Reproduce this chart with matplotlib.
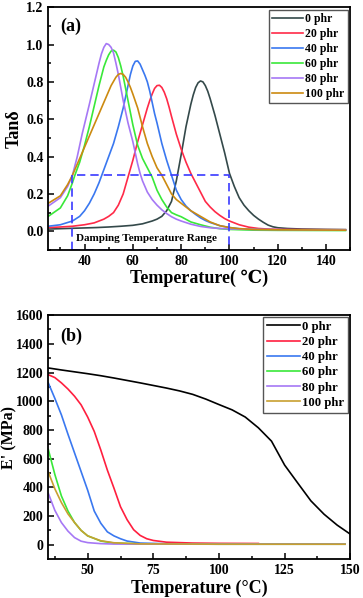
import numpy as np
import matplotlib.pyplot as plt

plt.rcParams['font.family'] = ['Liberation Serif', 'DejaVu Serif']
plt.rcParams['font.weight'] = 'bold'

labels = ['0 phr', '20 phr', '40 phr', '60 phr', '80 phr', '100 phr']
colors_a = ['#34494a', '#ff2a48', '#3a78f0', '#39e839', '#a678f5', '#cc8a10']
colors_b = ['#000000', '#ff1f3f', '#3a78f0', '#39e839', '#a678f5', '#c8a030']

# ---- (a) tan delta ----
t0 = [25, 30, 35, 40, 45, 50, 55, 60, 64, 68, 70, 72, 74, 76, 78, 80, 82, 84, 85, 86, 87, 88, 89, 90, 91,
      92, 93, 94, 96, 98, 100, 102, 104, 106, 108, 110, 112, 114, 116, 118, 120, 124, 130, 140, 148]
tan0 = [.012, .014, .016, .018, .02, .023, .027, .032, .04, .055, .065, .08, .11, .16, .27, .41, .56, .68,
        .73, .77, .795, .805, .80, .78, .75, .71, .665, .62, .52, .42, .31, .24, .18, .14, .11, .085, .065,
        .048, .033, .024, .019, .015, .012, .01, .009]

t20 = [25, 30, 35, 40, 44, 48, 50, 52, 54, 56, 58, 60, 62, 64, 66, 67, 68, 69, 70, 71, 72, 73, 74, 75, 76,
       78, 80, 82, 84, 86, 88, 90, 92, 94, 96, 98, 100, 104, 108, 112, 116, 120, 130, 148]
tan20 = [.02, .023, .027, .035, .045, .065, .08, .10, .14, .20, .29, .38, .48, .57, .66, .70, .735, .765,
         .78, .782, .77, .745, .71, .665, .615, .52, .44, .37, .31, .26, .21, .16, .13, .105, .085, .068,
         .055, .035, .022, .015, .012, .01, .009, .008]

t40 = [25, 30, 35, 38, 40, 42, 44, 46, 48, 50, 52, 54, 56, 57, 58, 59, 60, 61, 62, 63, 64, 65, 66, 67, 68,
       69, 70, 72, 74, 76, 78, 80, 82, 84, 86, 88, 90, 92, 96, 100, 104, 110, 120, 148]
tan40 = [.027, .035, .055, .08, .11, .15, .20, .26, .33, .40, .47, .56, .66, .72, .78, .84, .885, .91,
         .912, .895, .865, .835, .80, .75, .69, .63, .58, .47, .38, .30, .22, .17, .135, .11, .09, .072, .058,
         .047, .03, .02, .014, .01, .008, .006]

t60 = [25, 30, 33, 35, 36, 38, 40, 42, 44, 46, 48, 49, 50, 51, 52, 53, 54, 55, 56, 58, 60, 62, 64, 66, 68,
       70, 72, 74, 76, 78, 80, 84, 88, 92, 96, 100, 110, 120, 148]
tan60 = [.08, .125, .19, .26, .30, .37, .46, .56, .67, .78, .88, .915, .945, .965, .97, .96, .93, .885, .83,
         .70, .57, .46, .39, .34, .29, .22, .17, .13, .10, .088, .078, .05, .035, .022, .014, .01, .006,
         .005, .004]

t80 = [25, 30, 33, 35, 37, 39, 40.5, 42, 44, 46, 47, 48, 49, 50, 51, 52, 53, 54, 55, 56, 57, 58, 59, 60,
       61, 62, 63, 64, 66, 68, 70, 72, 74, 76, 78, 80, 84, 88, 92, 96, 100, 110, 120, 130, 148]
tan80 = [.135, .18, .24, .30, .40, .52, .60, .68, .79, .90, .95, .985, 1.005, 1.0, .985, .955, .90, .84,
         .77, .70, .64, .58, .53, .48, .42, .36, .31, .27, .21, .17, .14, .115, .095, .078, .065, .055,
         .038, .026, .019, .015, .013, .01, .009, .008, .007]

t100 = [25, 30, 33, 35, 37, 39, 41, 43, 45, 47, 49, 51, 53, 54, 55, 56, 57, 58, 59, 60, 62, 64, 66, 68, 70,
        72, 74, 76, 78, 80, 84, 88, 90, 92, 96, 100, 104, 110, 120, 148]
tan100 = [.15, .19, .25, .30, .36, .42, .48, .54, .60, .66, .72, .78, .825, .84, .845, .84, .825, .80, .77,
          .735, .66, .56, .47, .40, .34, .30, .25, .20, .17, .15, .11, .08, .065, .05, .03, .02, .014, .01,
          .008, .006]

# ---- (b) storage modulus ----
e_t0 = [35, 40, 45, 50, 55, 60, 65, 70, 75, 80, 85, 90, 95, 100, 105, 110, 115, 120, 125, 130, 135, 140, 145, 150]
E0 = [1232, 1218, 1205, 1192, 1178, 1162, 1145, 1128, 1110, 1092, 1072, 1048, 1015, 977, 940, 890, 815, 722,
      555, 430, 306, 213, 137, 74]

e_t20 = [35, 37.5, 40, 42.5, 45, 47.5, 50, 52.5, 55, 57.5, 60, 62.5, 65, 67.5, 70, 72.5, 75, 80, 90, 100, 115]
E20 = [1185, 1165, 1128, 1085, 1035, 975, 890, 790, 660, 520, 395, 265, 175, 105, 65, 42, 30, 18, 12, 10, 9]

e_t40 = [35, 37.5, 40, 42.5, 45, 47.5, 50, 52.5, 55, 57.5, 60, 62.5, 65, 70, 80, 100, 148]
E40 = [1128, 1020, 905, 770, 640, 510, 380, 235, 150, 90, 62, 42, 26, 12, 7, 5, 5]

e_t60 = [35, 37.5, 40, 42.5, 45, 47.5, 50, 55, 60, 70, 100, 148]
E60 = [665, 490, 340, 235, 155, 100, 62, 26, 12, 6, 4, 4]

e_t80 = [35, 37.5, 40, 42.5, 45, 47.5, 50, 55, 60, 100, 148]
E80 = [359, 240, 155, 95, 50, 25, 15, 8, 5, 4, 4]

e_t100 = [35, 37.5, 40, 42.5, 45, 47.5, 50, 55, 60, 70, 100, 148]
E100 = [507, 390, 294, 215, 155, 100, 62, 28, 14, 6, 4, 4]

fig = plt.figure(figsize=(3.63, 5.98), dpi=100)
ax1 = fig.add_axes([0.133, 0.582, 0.832, 0.406])
ax2 = fig.add_axes([0.133, 0.065, 0.832, 0.408])

for t, y, c, lab in zip([t0, t20, t40, t60, t80, t100], [tan0, tan20, tan40, tan60, tan80, tan100],
                        colors_a, labels):
    ax1.plot(t, y, color=c, lw=1.2, label=lab)

# damping range box
ax1.plot([35, 35, 100, 100], [-0.1, 0.3, 0.3, -0.1], color='#3a3aff', lw=1.2, ls=(0, (5, 3)))
ax1.plot([35, 100], [-0.1, -0.1], color='#3a3aff', lw=1.2, ls=(0, (5, 3)))
ax1.text(36.5, -0.036, 'Damping Temperature Range', fontsize=8, fontweight='bold', va='center')
ax1.text(0.04, 0.955, '(a)', transform=ax1.transAxes, fontsize=13, fontweight='bold', va='top')

ax1.set_xlim(25, 150)
ax1.set_ylim(-0.1, 1.2)
ax1.set_xticks([40, 60, 80, 100, 120, 140])
ax1.set_xticks([30, 50, 70, 90, 110, 130, 150], minor=True)
ax1.set_yticks(np.arange(0, 1.21, 0.2))
ax1.set_yticks(np.arange(-0.1, 1.2, 0.2), minor=True)
ax1.set_xlabel('Temperature( \u2103)', fontsize=13, fontweight='bold', labelpad=1)
ax1.set_ylabel('Tan\u03b4', fontsize=13, fontweight='bold')
ax1.yaxis.set_label_coords(-0.085, 0.5)
ax1.legend(loc='upper right', handlelength=2.6, handletextpad=0.2, labelspacing=0.25,
           borderpad=0.3, borderaxespad=0.2, fancybox=False, edgecolor='#555555', framealpha=1,
           prop={'weight': 'bold', 'size': 8.5})

for t, y, c, lab in zip([e_t0, e_t20, e_t40, e_t60, e_t80, e_t100], [E0, E20, E40, E60, E80, E100],
                        colors_b, labels):
    ax2.plot(t, y, color=c, lw=1.2, label=lab)

ax2.text(0.04, 0.947, '(b)', transform=ax2.transAxes, fontsize=13, fontweight='bold', va='top')
ax2.set_xlim(35, 150)
ax2.set_ylim(-100, 1600)
ax2.set_xticks([50, 75, 100, 125, 150])
ax2.set_xticks([37.5, 62.5, 87.5, 112.5, 137.5], minor=True)
ax2.set_yticks(np.arange(0, 1601, 200))
ax2.set_yticks(np.arange(100, 1600, 200), minor=True)
ax2.set_xlabel('Temperature (\u00b0C)', fontsize=13, fontweight='bold', labelpad=2)
ax2.set_ylabel("E' (MPa)", fontsize=11.5, fontweight='bold')
ax2.yaxis.set_label_coords(-0.103, 0.5)
ax2.legend(loc='upper right', handlelength=2.6, handletextpad=0.2, labelspacing=0.25,
           borderpad=0.3, borderaxespad=0.15, fancybox=False, edgecolor='#555555', framealpha=1,
           prop={'weight': 'bold', 'size': 9.2})

for ax in (ax1, ax2):
    for s in ax.spines.values():
        s.set_linewidth(1.3)
    ax.tick_params(which='both', direction='in', labelsize=10, width=1.1)
    ax.tick_params(which='major', length=4)
    ax.tick_params(which='minor', length=2.5)
    for lbl in ax.get_xticklabels() + ax.get_yticklabels():
        lbl.set_fontweight('bold')

fig.savefig('out.png', dpi=100)
